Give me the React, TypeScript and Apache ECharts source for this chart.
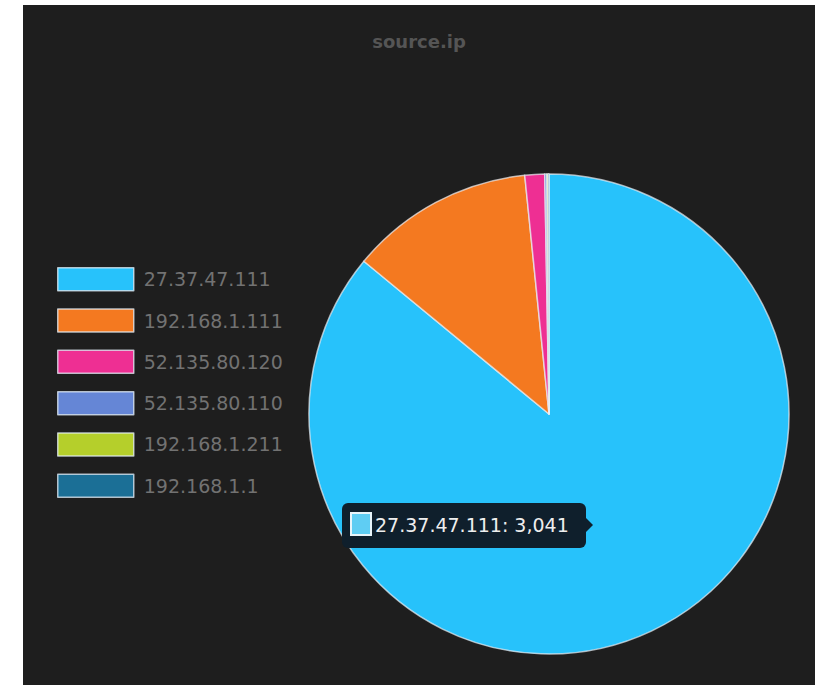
import React, { useEffect, useRef } from "react";
import * as echarts from "echarts";

const titleText = "source.ip";
const categories = [
  "27.37.47.111",
  "192.168.1.111",
  "52.135.80.120",
  "52.135.80.110",
  "192.168.1.211",
  "192.168.1.1",
];
const values = [3041, 439, 47, 5, 3, 2];
const colors = ["#27c2fb", "#f47920", "#ee2f93", "#6586d6", "#b5cf2b", "#1b6f96"];
const tooltipIndex = 0;

export default function App() {
  const ref = useRef<HTMLDivElement>(null);
  useEffect(() => {
    if (!ref.current) return;
    const chart = echarts.init(ref.current, undefined, { renderer: "svg" });
    const tipText =
      categories[tooltipIndex] + ": " + values[tooltipIndex].toLocaleString("en-US");
    chart.setOption({
      animation: false,
      backgroundColor: "#1e1e1e",
      title: {
        text: titleText,
        left: "center",
        top: 22,
        textStyle: {
          color: "#555555",
          fontSize: 18,
          fontWeight: "bold",
          fontFamily: "DejaVu Sans",
        },
      },
      legend: {
        orient: "vertical",
        left: 29,
        top: 257,
        itemWidth: 76,
        itemHeight: 23,
        itemGap: 16.8,
        icon: "rect",
        itemStyle: { borderColor: "rgba(230,240,250,0.75)", borderWidth: 1.5 },
        textStyle: {
          color: "#727272",
          fontSize: 19,
          lineHeight: 23,
          fontFamily: "DejaVu Sans",
          padding: [0, 0, 0, 5],
        },
        data: categories,
      },
      series: [
        {
          type: "pie",
          center: [526, 409],
          radius: [0, 240],
          startAngle: 90,
          clockwise: true,
          z: 2,
          label: { show: false },
          labelLine: { show: false },
          itemStyle: { borderColor: "rgba(235,240,245,0.7)", borderWidth: 1.5 },
          data: categories.map((name, i) => ({
            name,
            value: values[i],
            itemStyle: { color: colors[i] },
          })),
        },
      ],
      graphic: {
        elements: [
          {
            type: "rect",
            z: 100,
            shape: { x: 319, y: 498, width: 244, height: 45, r: 6 },
            style: { fill: "#0f1f2c" },
          },
          {
            type: "polygon",
            z: 100,
            shape: { points: [[562, 512], [570, 520], [562, 528]] },
            style: { fill: "#0f1f2c" },
          },
          {
            type: "rect",
            z: 101,
            shape: { x: 328, y: 508, width: 20, height: 22 },
            style: { fill: "#5fcdf3", stroke: "#e8f4fa", lineWidth: 2 },
          },
          {
            type: "text",
            z: 101,
            x: 352,
            y: 520,
            style: {
              text: tipText,
              fill: "#eeeeee",
              fontSize: 19,
              fontFamily: "DejaVu Sans",
              verticalAlign: "middle",
              align: "left",
            },
          },
        ],
      },
    });
    return () => chart.dispose();
  }, []);
  return (
    <div
      style={{
        position: "absolute",
        left: 0,
        top: 0,
        width: 815,
        height: 685,
        background: "#ffffff",
        overflow: "hidden",
      }}
    >
      <div
        ref={ref}
        style={{ position: "absolute", left: 23, top: 5, width: 792, height: 680 }}
      />
    </div>
  );
}
